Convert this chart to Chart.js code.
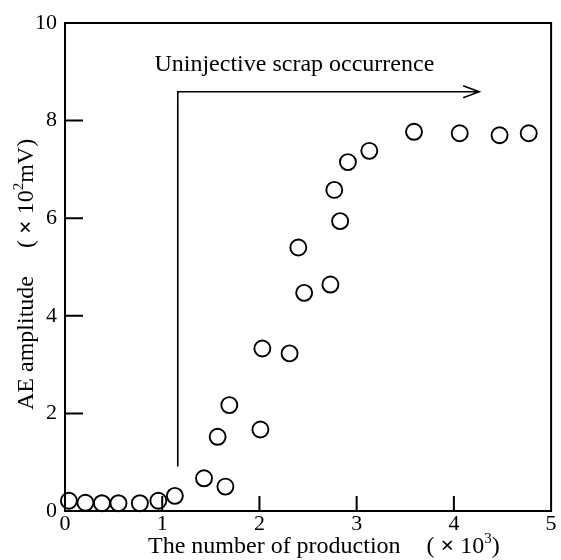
<!DOCTYPE html>
<html>
<head>
<meta charset="utf-8">
<title>AE amplitude</title>
<script src="https://cdn.jsdelivr.net/npm/chart.js@4.4.1/dist/chart.umd.min.js"></script>
<style>
body{margin:0;background:#fff;}
</style>
</head>
<body>
<canvas id="canvasAE" width="561" height="560"></canvas>
<script>
// datos
var production = [0.04, 0.21, 0.38, 0.55, 0.77, 0.96, 1.13, 1.43, 1.57, 1.65, 1.69, 2.01, 2.03, 2.31, 2.40, 2.46, 2.73, 2.77, 2.83, 2.91, 3.13, 3.59, 4.06, 4.47, 4.77];
var amplitude = [0.21, 0.17, 0.16, 0.16, 0.16, 0.21, 0.31, 0.67, 1.52, 0.50, 2.17, 1.67, 3.33, 3.23, 5.40, 4.47, 4.64, 6.58, 5.94, 7.15, 7.38, 7.77, 7.74, 7.70, 7.74];
var xTicks = [0, 1, 2, 3, 4, 5];
var yTicks = [0, 2, 4, 6, 8, 10];

var annotationText = 'Uninjective scrap occurrence';
var arrowStartX = 1.16, arrowStartY = 0.91, arrowTopY = 8.59, arrowEndX = 4.26;
var textX = 0.92, textY = 9.14;

var SERIF = "'Liberation Serif', 'DejaVu Serif', serif";

// dibuja texto por partes (superindices, negrita, huecos)
function drawPieces(ctx, pieces, x, y){
	var cx = x;
	pieces.forEach(function(p){
		if (p.gap) { cx += p.gap; return; }
		ctx.font = p.font;
		ctx.fillText(p.text, cx, y + (p.dy || 0));
		cx += ctx.measureText(p.text).width;
	});
}

var framePlugin = {
	id: 'frame',
	afterDraw: function(chart){
		var ctx = chart.ctx;
		var a = chart.chartArea;
		var sx = chart.scales.x, sy = chart.scales.y;
		ctx.save();
		ctx.strokeStyle = '#000';
		ctx.lineWidth = 2;
		ctx.strokeRect(a.left, a.top, a.right - a.left, a.bottom - a.top);

		//ticks hacia adentro
		ctx.beginPath();
		xTicks.slice(1, -1).forEach(function(v){
			var px = sx.getPixelForValue(v);
			ctx.moveTo(px, a.bottom);
			ctx.lineTo(px, a.bottom - 15);
		});
		yTicks.slice(1, -1).forEach(function(v){
			var py = sy.getPixelForValue(v);
			ctx.moveTo(a.left, py);
			ctx.lineTo(a.left + 18, py);
		});
		ctx.stroke();

		//flecha
		var x0 = sx.getPixelForValue(arrowStartX), y0 = sy.getPixelForValue(arrowStartY);
		var yt = sy.getPixelForValue(arrowTopY), x1 = sx.getPixelForValue(arrowEndX);
		ctx.lineWidth = 1.6;
		ctx.beginPath();
		ctx.moveTo(x0, y0);
		ctx.lineTo(x0, yt);
		ctx.lineTo(x1, yt);
		ctx.moveTo(x1 - 16, yt - 6);
		ctx.lineTo(x1, yt);
		ctx.lineTo(x1 - 16, yt + 6);
		ctx.stroke();

		ctx.fillStyle = '#000';
		ctx.textBaseline = 'middle';
		ctx.textAlign = 'left';
		ctx.font = '24px ' + SERIF;
		ctx.fillText(annotationText, sx.getPixelForValue(textX), sy.getPixelForValue(textY));

		// titulos de los ejes
		var xTitle = [
			{text: 'The number of production', font: '24px ' + SERIF},
			{gap: 26},
			{text: '( ', font: '24px ' + SERIF},
			{text: '\u00d7', font: 'bold 24px ' + SERIF},
			{text: ' 10', font: '24px ' + SERIF},
			{text: '3', font: '15px ' + SERIF, dy: -8},
			{text: ')', font: '24px ' + SERIF}
		];
		drawPieces(ctx, xTitle, 148, 547);

		var yTitle = [
			{text: 'AE amplitude', font: '24px ' + SERIF},
			{gap: 28},
			{text: '( ', font: '24px ' + SERIF},
			{text: '\u00d7', font: 'bold 24px ' + SERIF},
			{text: ' 10', font: '24px ' + SERIF},
			{text: '2', font: '15px ' + SERIF, dy: -8},
			{text: 'mV)', font: '24px ' + SERIF}
		];
		ctx.translate(27, 410);
		ctx.rotate(-Math.PI / 2);
		drawPieces(ctx, yTitle, 0, 0);
		ctx.restore();
	}
};

function drawChart(){
	var points = [];
	production.forEach(function(x, i){
		points.push({x: x, y: amplitude[i]});
	});

	var ctx = document.getElementById('canvasAE').getContext('2d');
	window.aeChart = new Chart(ctx, {
		type: 'scatter',
		data: {
			datasets: [{
				data: points,
				pointRadius: 8,
				pointHoverRadius: 8,
				pointBorderWidth: 1.9,
				pointBorderColor: '#000',
				pointBackgroundColor: 'rgba(0,0,0,0)',
				showLine: false,
				clip: false
			}]
		},
		options: {
			responsive: false,
			animation: false,
			layout: {padding: {top: 23, right: 9, left: 0, bottom: 0}},
			plugins: {
				legend: {display: false},
				tooltip: {enabled: false}
			},
			scales: {
				x: {
					type: 'linear',
					min: 0,
					max: 5,
					afterFit: function(s){ s.height = 49; },
					afterBuildTicks: function(s){ s.ticks = xTicks.map(function(v){ return {value: v}; }); },
					grid: {display: false, drawTicks: false},
					border: {display: false},
					ticks: {
						color: '#000',
						padding: 0,
						font: {family: SERIF, size: 22}
					}
				},
				y: {
					type: 'linear',
					min: 0,
					max: 10,
					afterFit: function(s){ s.width = 65; },
					afterBuildTicks: function(s){ s.ticks = yTicks.map(function(v){ return {value: v}; }); },
					grid: {display: false, drawTicks: false},
					border: {display: false},
					ticks: {
						color: '#000',
						padding: 8,
						font: {family: SERIF, size: 22}
					}
				}
			}
		},
		plugins: [framePlugin]
	});
}

window.onload = function(){
	drawChart();
};
</script>
</body>
</html>
